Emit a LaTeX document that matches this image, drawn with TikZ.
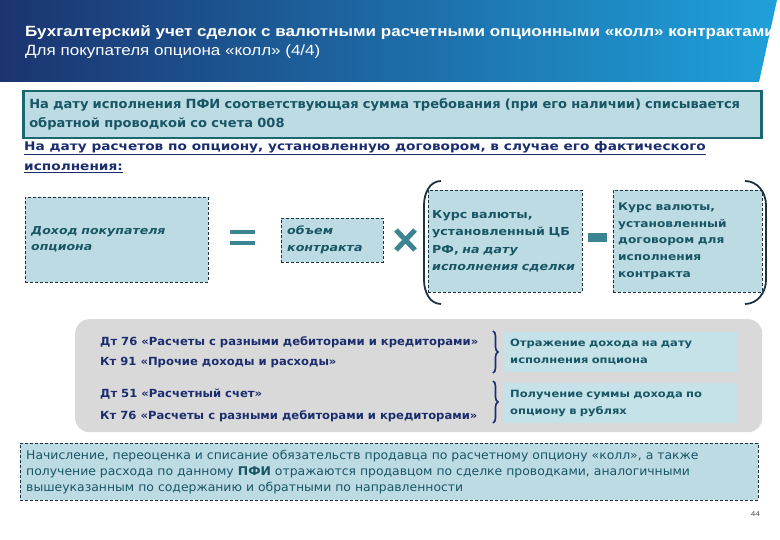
\documentclass[tikz,border=0pt]{standalone}
\usepackage{fontspec}
\setmainfont[FakeStretch=1.15]{Liberation Sans}
\newfontfamily\verdfont[FakeStretch=1.15]{DejaVu Sans}
\newfontfamily\tahfont[FakeStretch=1.15]{DejaVu Sans Condensed}
\usetikzlibrary{decorations.pathreplacing}
\definecolor{hdleft}{RGB}{27,52,112}
\definecolor{hdright}{RGB}{31,160,218}
\definecolor{boxfill}{RGB}{189,219,227}
\definecolor{boxline}{RGB}{27,103,112}
\definecolor{tealtext}{RGB}{24,86,102}
\definecolor{navytext}{RGB}{27,45,110}
\definecolor{signteal}{RGB}{59,133,146}
\definecolor{greyback}{RGB}{217,217,217}
\definecolor{resfill}{RGB}{197,226,232}
\definecolor{parenline}{RGB}{30,50,62}

\begin{document}
\begin{tikzpicture}[
    x=1pt, y=-1pt,
    heading/.style={
      anchor=base west,
      text=white,
      inner sep=0pt
    },
    cell/.style={
      draw=parenline,
      densely dashed,
      fill=boxfill,
      anchor=north west,
      align=left,
      inner xsep=6pt,
      inner ysep=0pt,
      text=tealtext
    },
    entry/.style={
      anchor=base west,
      inner sep=0pt,
      text=navytext,
      font=\tahfont\bfseries\fontsize{11.2}{12}\selectfont
    },
    result/.style={
      fill=resfill,
      anchor=north west,
      text width=220pt,
      minimum height=40pt,
      inner xsep=7pt,
      align=left,
      text=tealtext,
      font=\verdfont\bfseries\fontsize{10}{16.5}\selectfont
    },
    bracket/.style={
      decorate,
      decoration={brace, amplitude=5pt},
      line width=1.6pt,
      navytext
    }
  ]
    \useasboundingbox (0,0) rectangle (780,540);
    \shade[left color=hdleft, right color=hdright] (0,0) -- (777,0) -- (759,82) -- (0,82) -- cycle;
    \node[heading, font=\bfseries\fontsize{14.8}{16}\selectfont] (title) at (25,37) {Бухгалтерский учет сделок с валютными расчетными опционными «колл» контрактами};
    \node[heading, font=\fontsize{14.8}{16}\selectfont] (subtitle) at (25,56) {Для покупателя опциона «колл» (4/4)};

    \node[draw=boxline, line width=2.5pt, fill=boxfill, anchor=north west, text width=726pt, minimum height=47pt, inner xsep=6pt, align=left, text=tealtext, font=\tahfont\bfseries\fontsize{12.6}{19}\selectfont] (writeoff) at (22,90) {На дату исполнения ПФИ соответствующая сумма требования (при его наличии) списывается\\обратной проводкой со счета 008};

    \node[anchor=north west, inner sep=0pt, align=left, text=navytext, font=\verdfont\bfseries\fontsize{11.9}{20}\selectfont] (settle) at (24,141) {\underline{На дату расчетов по опциону, установленную договором, в случае его фактического}\\\underline{исполнения:}};

    \node[cell, text width=171pt, minimum height=85pt, font=\verdfont\bfseries\itshape\fontsize{10.9}{16}\selectfont] (income) at (25,197) {Доход покупателя\\опциона};
    \node[cell, text width=90pt, minimum height=44pt, font=\verdfont\bfseries\itshape\fontsize{11}{17}\selectfont] (volume) at (281,218) {объем\\контракта};
    \node[cell, text width=146pt, inner xsep=4pt, minimum height=102pt, font=\verdfont\bfseries\fontsize{11}{17.5}\selectfont] (ratecb) at (428,190) {Курс валюты,\\установленный ЦБ\\РФ, \textit{на дату}\\\textit{исполнения сделки}};
    \node[cell, text width=139pt, inner xsep=5pt, minimum height=102pt, font=\verdfont\bfseries\fontsize{10.6}{16.8}\selectfont] (ratedeal) at (613,190) {Курс валюты,\\установленный\\договором для\\исполнения\\контракта};

    \fill[signteal] (230,230) rectangle (255,234.5);
    \fill[signteal] (230,241) rectangle (255,245.5);
    \draw[signteal, line width=5pt] (396,230) -- (415,250) (396,250) -- (415,230);
    \fill[signteal] (588,233) rectangle (607,242);
    \draw[parenline, line width=1.8pt] (441,181) to[out=180, in=90] (424,205) -- (424,280) to[out=-90, in=180] (441,304);
    \draw[parenline, line width=1.8pt] (745,181) to[out=0, in=90] (766,205) -- (766,280) to[out=-90, in=0] (745,304);

    \node[fill=greyback, rounded corners=14pt, anchor=north west, minimum width=687pt, minimum height=113pt] (panel) at (75,319) {};
    \node[entry] (dt76) at (100,345) {Дт 76 «Расчеты с разными дебиторами и кредиторами»};
    \node[entry] (kt91) at (100,366) {Кт 91 «Прочие доходы и расходы»};
    \node[entry] (dt51) at (100,398) {Дт 51 «Расчетный счет»};
    \node[entry] (kt76) at (100,419) {Кт 76 «Расчеты с разными дебиторами и кредиторами»};
    \node[result] (income2) at (503,332) {Отражение дохода на дату\\исполнения опциона};
    \node[result] (cash) at (503,383) {Получение суммы дохода по\\опциону в рублях};
    \draw[bracket] (493,331) -- (493,373);
    \draw[bracket] (493,381) -- (493,423);

    \node[cell, text width=726pt, minimum height=57pt, inner xsep=6pt, font=\tahfont\fontsize{12}{16}\selectfont] (seller) at (20,443) {Начисление, переоценка и списание обязательств продавца по расчетному опциону «колл», а также\\получение расхода по данному \textbf{ПФИ} отражаются продавцом по сделке проводками, аналогичными\\вышеуказанным по содержанию и обратными по направленности};
    \node[anchor=base east, inner sep=0pt, text=black!70, font=\fontsize{7}{8}\selectfont] (page) at (760,516) {44};
  \end{tikzpicture}
\end{document}
